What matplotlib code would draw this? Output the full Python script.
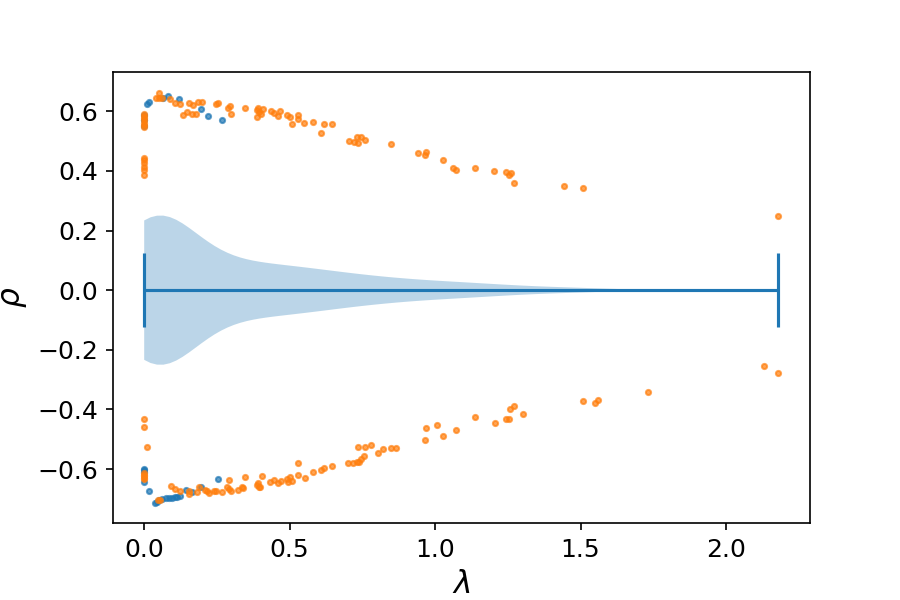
import numpy as np
import matplotlib.pyplot as plt

# blue points (lambda, rho)
blue_lam = [0.01, 0.016, 0.0, 0.0, 0.0, 0.066, 0.083, 0.12, 0.195, 0.22, 0.267,
            0.0, 0.0, 0.0, 0.0, 0.017, 0.038, 0.044, 0.052, 0.062, 0.075, 0.085,
            0.095, 0.105, 0.113, 0.123, 0.144, 0.164, 0.196, 0.255]
blue_rho = [0.625, 0.63, 0.587, 0.57, 0.55, 0.644, 0.65, 0.64, 0.607, 0.585, 0.571,
            -0.6, -0.605, -0.61, -0.645, -0.673, -0.713, -0.71, -0.704, -0.70, -0.698,
            -0.698, -0.697, -0.695, -0.693, -0.692, -0.671, -0.676, -0.662, -0.634]

# orange points, upper branch
orange_lam_top = [0.0, 0.0, 0.0, 0.0, 0.0, 0.0, 0.0,
                  0.0, 0.0, 0.0, 0.0, 0.0, 0.0,
                  0.05, 0.04, 0.05, 0.06, 0.088, 0.106, 0.123,
                  0.132, 0.146, 0.155, 0.167, 0.163, 0.178, 0.184, 0.2,
                  0.246, 0.255, 0.287, 0.295, 0.298, 0.345,
                  0.387, 0.387, 0.39, 0.395, 0.40, 0.407,
                  0.435, 0.445, 0.459, 0.468, 0.49, 0.50, 0.508,
                  0.528, 0.528, 0.55, 0.58, 0.608, 0.617, 0.644,
                  0.703, 0.72, 0.73, 0.735, 0.745, 0.76, 0.85,
                  0.94, 0.965, 0.97, 1.027, 1.06, 1.071, 1.137, 1.203,
                  1.244, 1.255, 1.26, 1.27, 1.442, 1.507, 2.178]
orange_rho_top = [0.592, 0.585, 0.578, 0.57, 0.562, 0.555, 0.548,
                  0.444, 0.435, 0.426, 0.412, 0.403, 0.385,
                  0.663, 0.644, 0.644, 0.644, 0.64, 0.627, 0.625,
                  0.588, 0.599, 0.627, 0.621, 0.592, 0.592, 0.63, 0.63,
                  0.625, 0.627, 0.61, 0.618, 0.592, 0.61,
                  0.605, 0.582, 0.61, 0.598, 0.59, 0.608,
                  0.602, 0.595, 0.585, 0.602, 0.588, 0.582, 0.557,
                  0.588, 0.574, 0.561, 0.565, 0.528, 0.559, 0.557,
                  0.50, 0.498, 0.515, 0.495, 0.515, 0.505, 0.49,
                  0.46, 0.455, 0.463, 0.436, 0.411, 0.404, 0.411, 0.40,
                  0.398, 0.386, 0.392, 0.358, 0.348, 0.344, 0.248]

# orange points, lower branch
orange_lam_bot = [0.0, 0.0, 0.011, 0.0, 0.0, 0.0, 0.0, 0.0,
                  0.048, 0.054, 0.092, 0.106, 0.123, 0.155, 0.155,
                  0.18, 0.19, 0.21, 0.216, 0.224, 0.241, 0.246, 0.267,
                  0.284, 0.292, 0.299, 0.292, 0.324, 0.335, 0.341, 0.347,
                  0.387, 0.393, 0.39, 0.398, 0.405,
                  0.433, 0.445, 0.459, 0.471, 0.49, 0.495, 0.508, 0.50,
                  0.528, 0.529, 0.552, 0.58, 0.609, 0.617, 0.644,
                  0.70, 0.718, 0.73, 0.74, 0.745, 0.755,
                  0.734, 0.76, 0.78, 0.803, 0.821, 0.85, 0.867,
                  0.966, 0.97, 1.008, 1.028, 1.071, 1.138, 1.205,
                  1.244, 1.255, 1.259, 1.27, 1.304, 1.508, 1.55, 1.561, 1.733,
                  2.131, 2.178]
orange_rho_bot = [-0.431, -0.459, -0.525, -0.615, -0.62, -0.625, -0.63, -0.635,
                  -0.704, -0.704, -0.657, -0.666, -0.673, -0.673, -0.684,
                  -0.676, -0.662, -0.671, -0.675, -0.68, -0.673, -0.673, -0.676,
                  -0.662, -0.668, -0.673, -0.637, -0.67, -0.66, -0.665, -0.626,
                  -0.654, -0.662, -0.648, -0.66, -0.623,
                  -0.642, -0.637, -0.646, -0.64, -0.632, -0.643, -0.641, -0.626,
                  -0.579, -0.62, -0.631, -0.609, -0.603, -0.598, -0.59,
                  -0.581, -0.579, -0.575, -0.575, -0.566, -0.558,
                  -0.527, -0.527, -0.519, -0.546, -0.534, -0.528, -0.529,
                  -0.504, -0.464, -0.452, -0.489, -0.47, -0.427, -0.444,
                  -0.433, -0.431, -0.398, -0.39, -0.416, -0.373, -0.379, -0.37, -0.343,
                  -0.255, -0.279]

# lambda sample behind the violin (estimated from its outline)
violin_lam = [
    0.0, 0.0, 0.0, 0.001, 0.001, 0.002, 0.002, 0.003, 0.004, 0.004,
    0.005, 0.005, 0.006, 0.007, 0.007, 0.008, 0.009, 0.009, 0.010, 0.011,
    0.011, 0.012, 0.013, 0.013, 0.014, 0.015, 0.015, 0.016, 0.017, 0.017,
    0.018, 0.019, 0.019, 0.020, 0.021, 0.021, 0.022, 0.023, 0.023, 0.024,
    0.025, 0.025, 0.026, 0.027, 0.027, 0.028, 0.029, 0.029, 0.030, 0.031,
    0.031, 0.032, 0.033, 0.033, 0.034, 0.035, 0.035, 0.036, 0.037, 0.037,
    0.038, 0.039, 0.039, 0.040, 0.041, 0.041, 0.042, 0.043, 0.043, 0.044,
    0.045, 0.045, 0.046, 0.047, 0.047, 0.048, 0.049, 0.049, 0.050, 0.051,
    0.051, 0.052, 0.053, 0.054, 0.055, 0.056, 0.057, 0.058, 0.059, 0.060,
    0.061, 0.062, 0.063, 0.064,
    0.068, 0.075, 0.083, 0.090, 0.098, 0.105, 0.113, 0.120, 0.128, 0.135,
    0.143, 0.150, 0.158, 0.165, 0.173, 0.180, 0.188, 0.195, 0.203, 0.210,
    0.218, 0.225, 0.233, 0.240, 0.248, 0.255, 0.263, 0.270, 0.278, 0.285,
    0.293, 0.300, 0.308, 0.315, 0.323, 0.330, 0.338, 0.345, 0.353, 0.360,
    0.368, 0.375, 0.383, 0.390, 0.398,
    0.406, 0.414, 0.422, 0.430, 0.438, 0.447, 0.456, 0.465, 0.474, 0.483,
    0.492, 0.501, 0.510, 0.519, 0.528, 0.537, 0.546, 0.555, 0.564, 0.573,
    0.582, 0.591, 0.599,
    0.610, 0.622, 0.634, 0.646, 0.658, 0.671, 0.684, 0.697, 0.711, 0.725,
    0.739, 0.754, 0.769, 0.784, 0.800, 0.816, 0.832, 0.849, 0.866, 0.884,
    0.905, 0.928, 0.951, 0.975, 0.999, 1.024, 1.049, 1.075, 1.101, 1.128,
    1.155, 1.183,
    1.22, 1.27, 1.33, 1.40, 1.47, 1.56,
    2.18]

orange_lam = orange_lam_top + orange_lam_bot
orange_rho = orange_rho_top + orange_rho_bot

plt.rcParams['font.size'] = 12

fig = plt.figure(figsize=(6, 4), dpi=150)
ax = fig.add_subplot(111)
fig.subplots_adjust(left=0.125, right=0.9, top=0.88, bottom=0.128)

ax.violinplot([violin_lam], positions=[0], orientation='horizontal')
ax.scatter(blue_lam, blue_rho, s=6, alpha=0.7, color='C0')
ax.scatter(orange_lam, orange_rho, s=6, alpha=0.7, color='C1')

ax.set_xlabel(r'$\lambda$', fontsize=15)
ax.set_ylabel(r'$\rho$', fontsize=15)

fig.savefig('out.png')
